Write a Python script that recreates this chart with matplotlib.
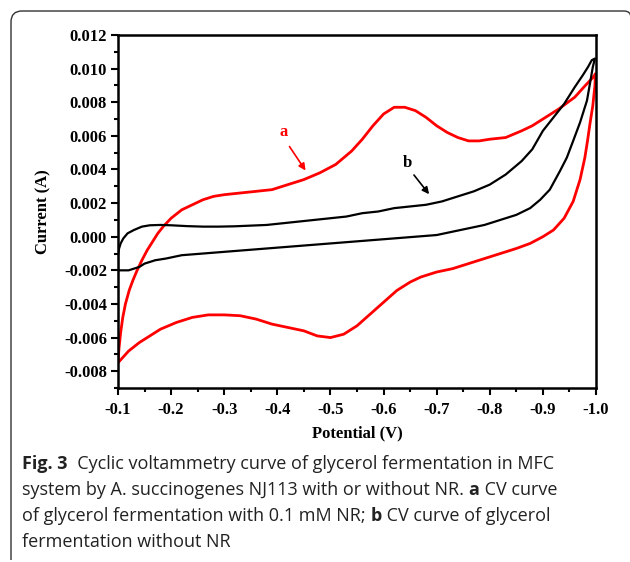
import numpy as np
import matplotlib
matplotlib.use("Agg")
import matplotlib.pyplot as plt
from matplotlib.ticker import MultipleLocator, FormatStrFormatter
from matplotlib.path import Path
from matplotlib.patches import PathPatch

plt.rcParams['axes.unicode_minus'] = False

# curve a (0.1 mM NR) - one full CV loop, potential (V) / current (A)
pot_a = [-0.100, -0.102, -0.105, -0.109, -0.114, -0.121, -0.128, -0.136, -0.145, -0.155,
         -0.165, -0.175, -0.185, -0.200, -0.220, -0.240, -0.260, -0.280, -0.300, -0.330,
         -0.360, -0.390, -0.420, -0.450, -0.480, -0.510, -0.540, -0.560, -0.580, -0.600,
         -0.620, -0.640, -0.660, -0.680, -0.700, -0.720, -0.740, -0.760, -0.780, -0.800,
         -0.830, -0.860, -0.880, -0.900, -0.930, -0.960, -0.980, -0.995, -0.999,
         -0.998, -0.994, -0.989, -0.984, -0.979, -0.970, -0.957, -0.940, -0.920, -0.900,
         -0.876, -0.850, -0.820, -0.790, -0.760, -0.730, -0.700, -0.670, -0.650, -0.625,
         -0.600, -0.575, -0.550, -0.525, -0.500, -0.475, -0.450, -0.420, -0.390, -0.360,
         -0.330, -0.300, -0.270, -0.240, -0.210, -0.180, -0.160, -0.140, -0.120, -0.100]
cur_a = [-0.0074, -0.0066, -0.0057, -0.0048, -0.0040, -0.0032, -0.0026, -0.0020, -0.0014, -0.0008,
         -0.0003, 0.0002, 0.0006, 0.0011, 0.0016, 0.0019, 0.0022, 0.0024, 0.0025, 0.0026,
         0.0027, 0.0028, 0.0031, 0.0034, 0.0038, 0.0043, 0.0051, 0.0058, 0.0066, 0.0073,
         0.0077, 0.0077, 0.0075, 0.0071, 0.0066, 0.0062, 0.0059, 0.0057, 0.0057, 0.0058,
         0.0059, 0.0063, 0.0066, 0.0070, 0.0076, 0.0083, 0.0090, 0.0095, 0.0097,
         0.0090, 0.0078, 0.0068, 0.0057, 0.0047, 0.0034, 0.0021, 0.0011, 0.0004, 0.0000,
         -0.0004, -0.0007, -0.0010, -0.0013, -0.0016, -0.0019, -0.0021, -0.0024, -0.0027, -0.0032,
         -0.0039, -0.0046, -0.0053, -0.0058, -0.0060, -0.0059, -0.0056, -0.0054, -0.0052, -0.0049,
         -0.0047, -0.00465, -0.00465, -0.0048, -0.0051, -0.0055, -0.0059, -0.0063, -0.0068, -0.0075]

# curve b (no NR)
pot_b = [-0.100, -0.100, -0.102, -0.105, -0.110, -0.118, -0.130, -0.145, -0.160, -0.180,
         -0.200, -0.230, -0.260, -0.290, -0.320, -0.350, -0.380, -0.410, -0.440, -0.470,
         -0.500, -0.530, -0.560, -0.590, -0.620, -0.650, -0.680, -0.710, -0.740, -0.770,
         -0.800, -0.830, -0.860, -0.880, -0.900, -0.920, -0.940, -0.960, -0.975, -0.985,
         -0.992, -0.998,
         -0.994, -0.988, -0.983, -0.970, -0.957, -0.945, -0.932, -0.913, -0.895, -0.876,
         -0.850, -0.820, -0.790, -0.760, -0.730, -0.700, -0.660, -0.620, -0.580, -0.540,
         -0.500, -0.460, -0.420, -0.380, -0.340, -0.300, -0.260, -0.220, -0.190, -0.170,
         -0.150, -0.140, -0.130, -0.120, -0.110, -0.100]
cur_b = [-0.0020, -0.0011, -0.0007, -0.0004, -0.0001, 0.0002, 0.0004, 0.0006, 0.00068, 0.0007,
         0.00068, 0.00063, 0.0006, 0.0006, 0.00062, 0.00066, 0.0007, 0.0008, 0.0009, 0.0010,
         0.0011, 0.0012, 0.0014, 0.0015, 0.0017, 0.0018, 0.0019, 0.0021, 0.0024, 0.0027,
         0.0031, 0.0037, 0.0045, 0.0052, 0.0063, 0.0071, 0.0079, 0.0089, 0.0096, 0.0101,
         0.0105, 0.0106,
         0.0101, 0.0090, 0.0081, 0.0068, 0.0057, 0.0047, 0.0039, 0.0028, 0.0022, 0.0017,
         0.0013, 0.0010, 0.0007, 0.0005, 0.0003, 0.0001, 0.0000, -0.0001, -0.0002, -0.0003,
         -0.0004, -0.0005, -0.0006, -0.0007, -0.0008, -0.0009, -0.0010, -0.0011, -0.0013, -0.0014,
         -0.0016, -0.0018, -0.0019, -0.0020, -0.0020, -0.0020]

caption = [
    [("Fig. 3", "bold"), ("  Cyclic voltammetry curve of glycerol fermentation in MFC", "normal")],
    [("system by A. succinogenes NJ113 with or without NR. ", "normal"), ("a", "bold"), (" CV curve", "normal")],
    [("of glycerol fermentation with 0.1 mM NR; ", "normal"), ("b", "bold"), (" CV curve of glycerol", "normal")],
    [("fermentation without NR", "normal")],
]

W, H = 630, 562
fig = plt.figure(figsize=(W / 100, H / 100), dpi=100)
ax = fig.add_axes([118 / W, 1 - 388 / H, (596 - 118) / W, (388 - 35) / H])

ax.plot(pot_a, cur_a, color='#ff0000', lw=2.0)
ax.plot(pot_b, cur_b, color='black', lw=1.6)

ax.set_xlim(-0.1, -1.0)
ax.set_ylim(-0.009, 0.012)
ax.xaxis.set_major_locator(MultipleLocator(0.1))
ax.xaxis.set_minor_locator(MultipleLocator(0.05))
ax.yaxis.set_major_locator(MultipleLocator(0.002))
ax.yaxis.set_minor_locator(MultipleLocator(0.001))
ax.xaxis.set_major_formatter(FormatStrFormatter('%.1f'))
ax.yaxis.set_major_formatter(FormatStrFormatter('%.3f'))
ax.tick_params(which='major', direction='out', length=5, width=1.5, pad=3)
ax.tick_params(axis='x', which='major', pad=5)
ax.tick_params(which='minor', direction='out', length=3, width=1.5)
for sp in ax.spines.values():
    sp.set_linewidth(1.8)
for lab in ax.get_xticklabels() + ax.get_yticklabels():
    lab.set_fontfamily('Liberation Serif')
    lab.set_fontweight('bold')
    lab.set_fontsize(12)

fig.text(357 / W, 1 - 433 / H, "Potential (V)", ha='center', va='center',
         family='Liberation Serif', weight='bold', fontsize=12)
fig.text(43 / W, 1 - 212 / H, "Current (A)", ha='center', va='center', rotation=90,
         family='Liberation Serif', weight='bold', fontsize=12)

# labels with arrows
ax.text(-0.411, 0.0062, "a", color='#ff0000', family='Liberation Serif', weight='bold',
        fontsize=12, ha='center', va='center')
ax.annotate("", xy=(-0.456, 0.0038), xytext=(-0.420, 0.0055),
            arrowprops=dict(arrowstyle='-|>', color='#ff0000', lw=1.2, mutation_scale=10))
ax.text(-0.644, 0.0044, "b", color='black', family='Liberation Serif', weight='bold',
        fontsize=12, ha='center', va='center')
ax.annotate("", xy=(-0.689, 0.0024), xytext=(-0.654, 0.0038),
            arrowprops=dict(arrowstyle='-|>', color='black', lw=1.2, mutation_scale=10))

# frame around the figure
r = 11
verts = [(11, 560), (11, 11 + r), (11, 11), (11 + r, 11), (624, 11), (631, 11), (631, 18)]
codes = [Path.MOVETO, Path.LINETO, Path.CURVE3, Path.CURVE3, Path.LINETO, Path.CURVE3, Path.CURVE3]
verts = [(x / W, 1 - y / H) for x, y in verts]
fig.patches.append(PathPatch(Path(verts, codes), transform=fig.transFigure, fill=False,
                             edgecolor='#333333', lw=1.0))

# caption
renderer = fig.canvas.get_renderer()
baselines = [469, 495, 521, 547]
for line, yb in zip(caption, baselines):
    x = 22
    for txt, wt in line:
        t = fig.text(x / W, 1 - yb / H, txt, ha='left', va='baseline', family='Open Sans',
                     weight=wt, fontsize=13, color='#222222')
        x += t.get_window_extent(renderer).width

fig.savefig("out.png", dpi=100)
